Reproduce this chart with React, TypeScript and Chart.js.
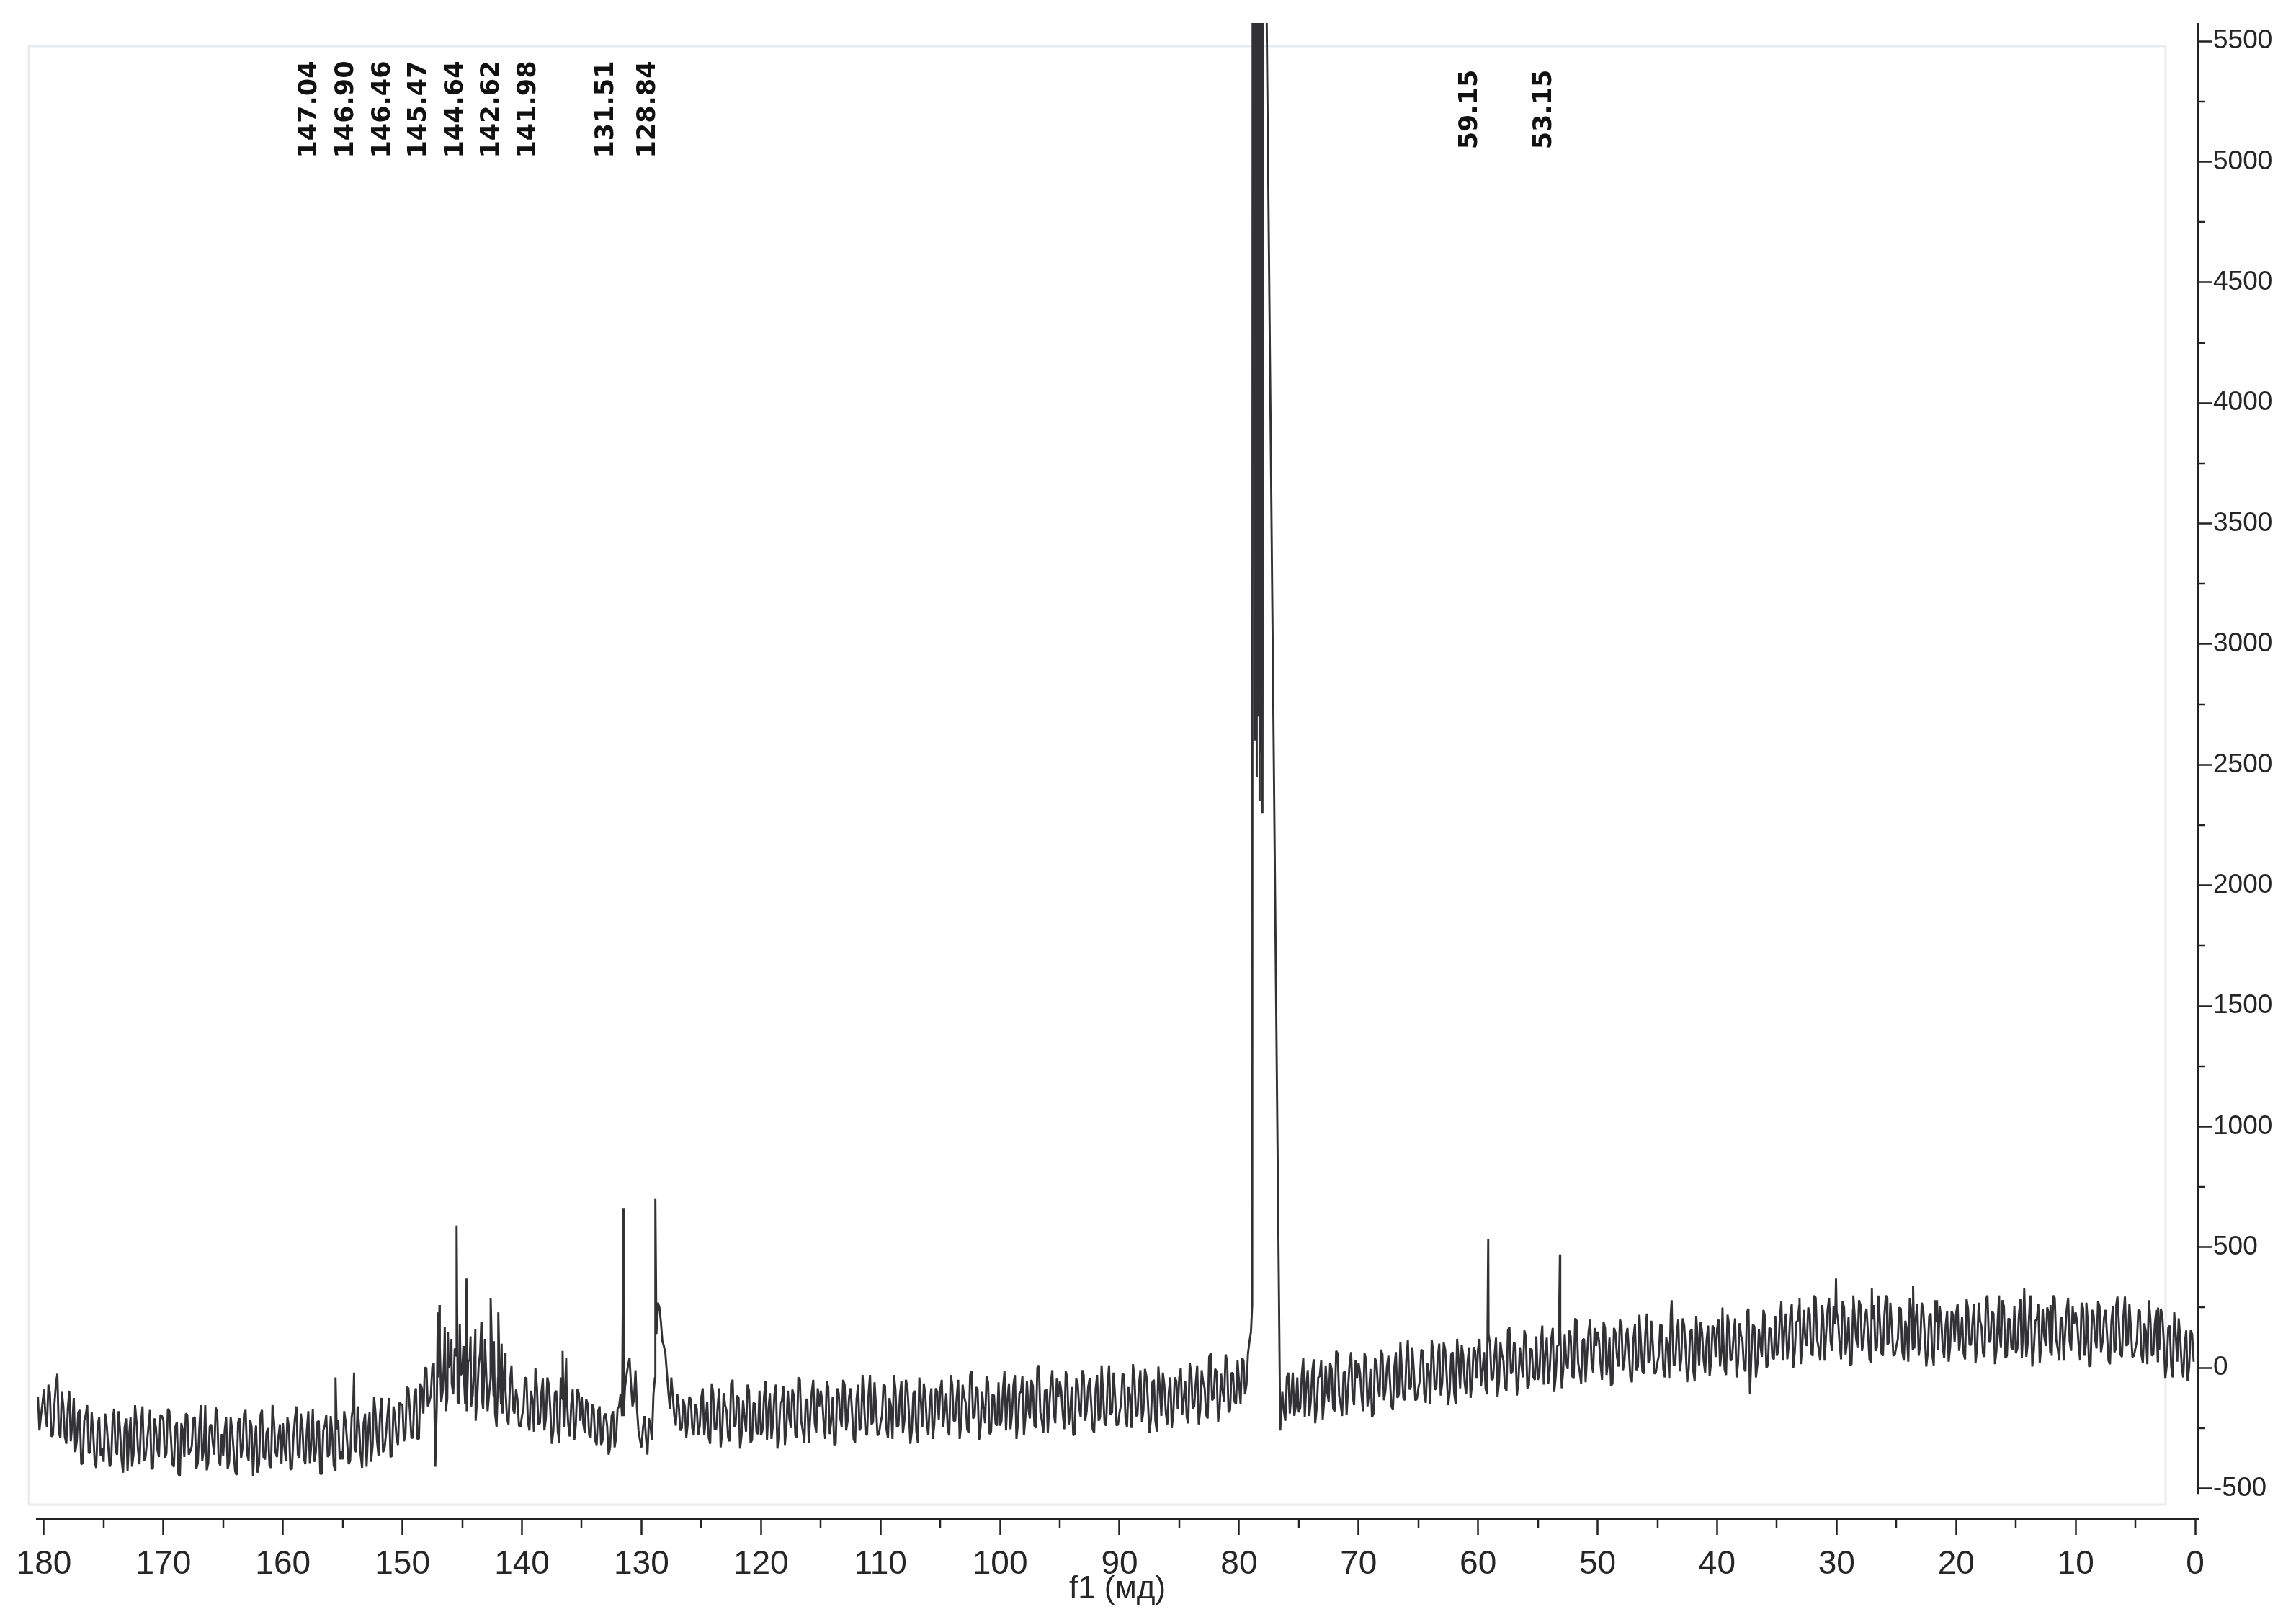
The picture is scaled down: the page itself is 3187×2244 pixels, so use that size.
import React, { useEffect, useRef } from 'react';
import { Chart, registerables } from 'chart.js';

Chart.register(...registerables);

const W = 3187;
const H = 2244;

// baseline trace: main grid every 0.25 ppm from 180.5 ppm,
// and the in-between samples every 0.25 ppm from 180.375 ppm
const GRID_START_PPM = 180.5;
const MID_START_PPM = 180.375;
const GRID_STEP_PPM = 0.25;

const baseline180to160 = [
  -120, -200,
  -90, -245, -105, -280, -70, -270, -100, -285, -170, -305, -125, -305, -175, -395, -195, -355, -185, -390, -240, -365,
  -390, -235, -410, -215, -345, -180, -380, -250, -430, -205, -360, -225, -400, -160, -370, -245, -420, -210, -340, -195,
  -220, -355, -180, -400, -245, -440, -230, -370, -195, -345, -210, -420, -255, -385, -155, -395, -235, -360, -185, -405,
  -365, -205, -390, -260, -430, -225, -375, -190, -355, -215, -450, -240, -400, -175, -380, -250, -415, -220, -370, -235,
];
const baseline160to140 = [
  -230, -385, -245, -420, -210, -360, -190, -375, -260, -395, -170, -350, -220, -440, -240, -370, -200, -405, -255, -380,
  -380, -225, -400, -205, -335, -160, -360, -230, -410, -185, -325, -190, -365, -125, -335, -195, -370, -160, -290, -145,
  -155, -275, -85, -290, -115, -295, -65, -190, 0, -140, 5, -410, -40, -140, 60, -130, 20, -110, 50, -150,
  -20, -150, 30, -160, 10, -130, 60, -170, -10, -110, 40, -190, -40, -150, -20, -210, -60, -170, -90, -240,
];
const baseline140to120 = [
  -200, -40, -225, -95, -265, -80, -230, -45, -210, -70, -315, -105, -265, -40, -245, -120, -285, -90, -240, -105,
  -120, -270, -150, -290, -170, -320, -160, -300, -190, -360, -200, -330, -170, -110, -200, -30, 40, -160, -10, -260,
  -330, -200, -360, -240, -110, 140, 250, 110, 60, -100, -40, -200, -110, -260, -130, -290, -120, -250, -150, -280,
  -125, -280, -140, -315, -105, -255, -85, -270, -155, -290, -65, -245, -115, -335, -135, -265, -95, -300, -150, -275,
];
const baseline120to100 = [
  -280, -125, -300, -105, -235, -70, -270, -140, -320, -95, -250, -115, -290, -50, -260, -135, -310, -100, -230, -85,
  -95, -230, -55, -275, -120, -315, -105, -245, -70, -220, -85, -295, -130, -260, -30, -270, -110, -235, -60, -280,
  -230, -70, -255, -125, -295, -90, -240, -55, -220, -80, -315, -105, -265, -40, -245, -115, -280, -85, -235, -100,
  -90, -245, -105, -280, -70, -220, -50, -235, -120, -255, -30, -210, -80, -300, -100, -230, -60, -265, -115, -240,
];
const baseline100to80 = [
  -240, -85, -260, -65, -195, -30, -230, -100, -280, -55, -210, -75, -250, 10, -220, -95, -270, -60, -190, -45,
  -55, -190, -15, -235, -80, -275, -65, -205, -30, -180, -45, -255, -90, -220, 10, -230, -70, -195, -20, -240,
  -185, -25, -210, -80, -250, -45, -195, -10, -175, -35, -270, -60, -220, 5, -200, -70, -235, -40, -190, -55,
  -40, -195, -55, -230, -20, -160, 10, -175, -60, -195, 45, -135, -5, -225, -25, -140, 30, -175, -25, -150,
];
const baseline80to60 = [
  -60, 40, -110, 60, 150, null, null, null, null, null, null, null, null, null, null, -180, -40, -190, -20, -160,
  -185, -30, -205, -10, -140, 35, -165, -35, -215, 10, -140, -5, -180, 60, -150, -20, -195, 15, -115, 30,
  20, -115, 60, -160, -5, -190, 20, -120, 55, -95, 50, -160, 5, -125, 105, -125, 35, -90, 85, -135,
  -85, 75, -110, 20, -150, 65, -85, 100, -65, 75, -155, 55, -105, 120, -85, 55, -110, 85, -65, 70,
];
const baseline60to40 = [
  80, -75, 65, -110, 100, -45, 125, -60, 55, -80, 155, -25, 105, -115, 85, -40, 130, -75, 75, -50,
  -50, 105, -70, 125, -5, 165, -35, 95, -85, 140, -5, 130, -45, 195, -15, 115, -60, 150, 20, 165,
  150, 15, 190, -30, 125, -65, 145, 5, 180, 30, 165, -45, 120, -10, 220, -15, 145, 20, 195, -25,
  20, 180, -5, 125, -45, 165, 15, 200, 35, 175, -60, 150, -10, 215, 10, 145, -20, 175, 25, 160,
];
const baseline40to20 = [
  160, 5, 145, -30, 180, 35, 205, 20, 135, 0, 230, -110, 180, -40, 160, 45, 215, 10, 160, 35,
  50, 205, 30, 225, 95, 265, 65, 195, 15, 240, 90, 225, 50, 290, 80, 205, 30, 240, 110, 255,
  235, 100, 275, 55, 210, 15, 225, 85, 260, 110, 245, 35, 200, 70, 300, 60, 220, 95, 270, 50,
  90, 250, 65, 195, 25, 230, 80, 265, 100, 240, 5, 215, 55, 280, 75, 205, 40, 235, 85, 220,
];
const baseline20to0 = [
  225, 70, 210, 35, 245, 95, 265, 80, 195, 60, 285, 105, 235, 15, 215, 85, 255, 50, 200, 75,
  60, 215, 40, 235, 105, 270, 70, 200, 20, 245, 90, 225, 50, 290, 80, 205, 30, 240, 110, 255,
  230, 95, 270, 50, 205, 10, 220, 80, 255, 105, 240, 30, 195, 65, 295, 55, 215, 90, 265, 45,
  80, 240, 55, 185, 15, 205, 55, 240, 75, 215, -45, 165, 5, 230, 25, 125, -40, 155, 5, 140,
];

const mid180to160 = [
  -260, -150,
  -195, -70, -285, -155, -25, -290, -160, -315, -95, -230, -350, -185, -400, -220, -155, -350, -265, -415, -205, -335,
  -190, -320, -395, -170, -360, -265, -435, -210, -285, -410, -155, -340, -230, -385, -310, -175, -415, -250, -370, -200,
  -375, -170, -285, -410, -225, -450, -260, -190, -360, -325, -205, -395, -155, -340, -425, -245, -310, -165, -385, -275,
  -260, -420, -205, -345, -445, -210, -330, -175, -385, -245, -310, -435, -195, -370, -270, -405, -155, -350, -285, -400,
];
const mid160to140 = [
  -330, -205, -420, -290, -160, -375, -245, -400, -180, -315, -390, -225, -440, -260, -195, -360, -275, -425, -215, -345,
  -180, -310, -385, -160, -350, -245, -415, -190, -265, -390, -120, -305, -195, -350, -275, -125, -365, -200, -320, -150,
  -305, -80, -180, -290, -85, -295, -85, 0, -160, -115, 20, -150, 90, -95, -180, 0, -65, 80, -140, -30,
  -15, -180, 30, -115, -220, 10, -115, 35, -180, -45, -115, -245, -10, -190, -95, -235, 10, -190, -130, -245,
];
const mid140to120 = [
  -170, -45, -260, -130, 0, -235, -105, -260, -40, -175, -260, -95, -310, -130, -65, -235, -150, -300, -90, -220,
  -230, -130, -280, -150, -300, -180, -320, -200, -240, -330, -180, -290, -160, -200, -80, 10, -70, -130, -170, -300,
  -250, -290, -210, -300, -40, 270, 190, 90, -20, -170, -120, -240, -160, -250, -160, -230, -130, -280, -170, -240,
  -85, -215, -290, -65, -255, -160, -330, -105, -180, -305, -50, -235, -125, -280, -205, -70, -310, -145, -265, -95,
];
const mid120to100 = [
  -260, -55, -170, -295, -110, -335, -145, -75, -245, -210, -90, -280, -40, -225, -310, -130, -195, -50, -270, -160,
  -135, -295, -80, -220, -320, -85, -205, -50, -260, -120, -185, -310, -70, -245, -145, -280, -30, -225, -160, -275,
  -200, -75, -290, -160, -30, -245, -115, -270, -50, -185, -260, -95, -310, -130, -65, -230, -145, -295, -85, -215,
  -50, -180, -255, -30, -220, -125, -295, -70, -145, -270, -15, -200, -90, -245, -170, -35, -275, -110, -230, -60,
];
const mid100to80 = [
  -220, -15, -130, -255, -70, -295, -105, -35, -205, -170, -50, -240, 0, -185, -270, -90, -155, -10, -230, -120,
  -95, -255, -40, -180, -280, -45, -165, -10, -220, -80, -145, -270, -30, -205, -105, -240, 10, -185, -120, -235,
  -155, -30, -245, -115, 15, -200, -70, -225, -5, -140, -215, -50, -265, -85, -20, -185, -100, -250, -40, -170,
  0, -130, -205, 20, -170, -65, -235, -10, -85, -210, 60, -125, -15, -170, -95, 55, -185, -20, -140, 30,
];
const mid80to60 = [
  -150, 30, -70, 110, null, null, null, null, null, null, null, null, null, null, -100, -220, -20, -110, -200, -40,
  -165, 40, -75, -200, -15, -230, -40, 30, -135, -100, 20, -170, 70, -115, -200, -15, -80, 65, -155, -45,
  -20, -180, 35, -105, -205, 40, -80, 75, -135, 5, -50, -175, 65, -110, -10, -135, 115, -80, -15, -130,
  -55, 70, -145, -15, 115, -90, 40, -115, 105, -30, -100, 65, -150, 30, 95, -60, 25, -125, 85, -45,
];
const mid60to40 = [
  120, -10, -85, 140, -50, 50, -120, 105, 30, -95, 170, -15, 95, -60, 15, 155, -85, 80, -40, 130,
  -30, 175, 60, -65, 120, -100, 90, 160, -10, 25, 155, -35, 205, 20, -65, 120, 55, 200, -20, 90,
  110, -50, 165, 25, -75, 165, 45, 200, -10, 130, 65, -60, 180, 5, 105, -25, 225, 30, 95, -20,
  50, 175, -40, 90, 220, 10, 140, -15, 205, 70, -5, 160, -55, 125, 190, 30, 115, -35, 175, 45,
];
const mid40to20 = [
  200, 70, -5, 220, 30, 130, -40, 185, 110, -15, 245, 60, 170, 15, 90, 240, 0, 165, 45, 215,
  70, 275, 160, 35, 220, 0, 190, 260, 90, 125, 250, 60, 300, 115, 30, 210, 145, 290, 70, 180,
  195, 35, 250, 110, 10, 245, 125, 280, 70, 210, 145, 20, 260, 85, 185, 50, 300, 105, 170, 55,
  120, 245, 30, 160, 290, 75, 205, 50, 270, 135, 60, 225, 10, 190, 255, 90, 175, 25, 235, 105,
];
const mid20to0 = [
  265, 135, 60, 285, 95, 190, 20, 245, 170, 45, 300, 115, 225, 70, 145, 280, 40, 205, 85, 255,
  80, 285, 170, 45, 230, 5, 195, 265, 95, 130, 250, 60, 300, 115, 30, 210, 145, 290, 70, 180,
  190, 30, 245, 105, 5, 240, 120, 275, 65, 205, 140, 15, 255, 80, 180, 45, 295, 100, 165, 50,
  110, 235, 20, 150, 280, 50, 180, 25, 245, 110, 10, 175, -40, 140, 205, 10, 95, -55, 155, 25,
];

// sharp signals (ppm, intensity)
const peakPpm = [
  155.6, 154.05, 147.04, 146.9, 146.46, 146.2, 145.9, 145.47, 145.2, 144.9, 144.64, 144.3, 143.9,
  143.4, 143.1, 142.62, 142.35, 141.98, 141.7, 141.4, 136.6, 136.3,
  131.51, 128.84, 59.15, 53.15, 43.8, 39.55, 33.1, 31.2, 30.05, 28.6, 27.05, 25.8, 23.6, 21.6,
  18.1, 16.4, 14.3, 13.8, 12.1, 9.1, 6.6, 3.1,
];
const peakIntensity = [
  -40, -20, 230, 260, 170, 150, 120, 590, 180, 90, 370, 130, 160,
  190, 120, 290, 110, 230, 100, 60, 70, 40,
  660, 700, 535, 470, 280, 250, 290, 260, 370, 300, 330, 290, 340, 280,
  270, 300, 330, 300, 260, 270, 260, 250,
];

// off-scale solvent signal (CDCl3), as it sits in the picture
const solventPpm = [
  78.9, 78.7, 78.64, 78.58, 78.52, 78.46, 78.4, 78.34, 78.28, 78.22, 78.16, 78.1, 78.04, 77.96, 76.55,
];
const solventIntensity = [
  260, 30000, 2600, 30000, 2450, 30000, 2700, 30000, 2350, 30000, 2550, 30000, 2300, 7000, -260,
];

// peak picking labels
const labelValues = [147.04, 146.9, 146.46, 145.47, 144.64, 142.62, 141.98, 131.51, 128.84, 59.15, 53.15];
const labelAnchorPpm = [157.74, 154.69, 151.64, 148.59, 145.54, 142.49, 139.44, 132.94, 129.44, 60.64, 54.44];

// axes
const xTickValues = [180, 170, 160, 150, 140, 130, 120, 110, 100, 90, 80, 70, 60, 50, 40, 30, 20, 10, 0];
const xMinorTicks = [175, 165, 155, 145, 135, 125, 115, 105, 95, 85, 75, 65, 55, 45, 35, 25, 15, 5];
const yTickValues = [-500, 0, 500, 1000, 1500, 2000, 2500, 3000, 3500, 4000, 4500, 5000, 5500];
const yMinorTicks = [-250, 250, 750, 1250, 1750, 2250, 2750, 3250, 3750, 4250, 4750, 5250];
const X_MIN = -0.24;
const X_MAX = 180.6;
const Y_MIN = -627;
const Y_MAX = 5575;
const Y_AXIS_LOW = -523;
const X_TITLE = 'f1 (мд)';

const AXIS_COLOR = '#232323';
const LINE_COLOR = '#323235';

function buildSpectrum() {
  const grid = [
    ...baseline180to160, ...baseline160to140, ...baseline140to120, ...baseline120to100,
    ...baseline100to80, ...baseline80to60, ...baseline60to40, ...baseline40to20, ...baseline20to0,
  ];
  const mids = [
    ...mid180to160, ...mid160to140, ...mid140to120, ...mid120to100,
    ...mid100to80, ...mid80to60, ...mid60to40, ...mid40to20, ...mid20to0,
  ];
  const pts: { x: number; y: number }[] = [];
  grid.forEach((v, i) => {
    if (v !== null) pts.push({ x: +(GRID_START_PPM - i * GRID_STEP_PPM).toFixed(3), y: v as number });
  });
  mids.forEach((v, i) => {
    if (v !== null) pts.push({ x: +(MID_START_PPM - i * GRID_STEP_PPM).toFixed(3), y: v as number });
  });
  peakPpm.forEach((p, i) => pts.push({ x: p, y: peakIntensity[i] }));
  solventPpm.forEach((p, i) => pts.push({ x: p, y: solventIntensity[i] }));
  pts.sort((a, b) => b.x - a.x);
  return pts;
}

const framePlugin = {
  id: 'scanFrame',
  beforeDraw(chart: any) {
    const { ctx } = chart;
    ctx.save();
    ctx.fillStyle = '#ffffff';
    ctx.fillRect(0, 0, chart.width, chart.height);
    ctx.strokeStyle = '#e8ebf0';
    ctx.lineWidth = 3;
    ctx.strokeRect(40, 64, 2966, 2024);
    ctx.restore();
  },
};

const axisExtrasPlugin = {
  id: 'axisExtras',
  afterDraw(chart: any) {
    const { ctx, chartArea, scales } = chart;
    const x = scales.x;
    const y = scales.y;
    ctx.save();
    ctx.strokeStyle = AXIS_COLOR;
    ctx.lineWidth = 3;
    ctx.beginPath();
    ctx.moveTo(chartArea.right, chartArea.top);
    ctx.lineTo(chartArea.right, y.getPixelForValue(Y_AXIS_LOW));
    ctx.stroke();
    ctx.lineWidth = 2.5;
    xMinorTicks.forEach((v) => {
      const px = Math.round(x.getPixelForValue(v));
      ctx.beginPath();
      ctx.moveTo(px, chartArea.bottom);
      ctx.lineTo(px, chartArea.bottom + 12);
      ctx.stroke();
    });
    yMinorTicks.forEach((v) => {
      const py = Math.round(y.getPixelForValue(v));
      ctx.beginPath();
      ctx.moveTo(chartArea.right, py);
      ctx.lineTo(chartArea.right + 10, py);
      ctx.stroke();
    });
    ctx.restore();
  },
};

const peakLabelPlugin = {
  id: 'peakLabels',
  afterDatasetsDraw(chart: any) {
    const { ctx, scales } = chart;
    const x = scales.x;
    ctx.save();
    ctx.font = 'bold 35px "DejaVu Sans", Verdana, sans-serif';
    ctx.fillStyle = '#111111';
    ctx.textAlign = 'center';
    ctx.textBaseline = 'middle';
    labelValues.forEach((v, i) => {
      const px = x.getPixelForValue(labelAnchorPpm[i]);
      ctx.save();
      ctx.translate(px, 152);
      ctx.rotate(-Math.PI / 2);
      ctx.fillText(v.toFixed(2), 0, 0);
      ctx.restore();
    });
    ctx.restore();
  },
};

export default function App() {
  const canvasRef = useRef<HTMLCanvasElement | null>(null);

  useEffect(() => {
    const canvas = canvasRef.current;
    if (!canvas) return;
    const chart = new Chart(canvas, {
      type: 'line',
      data: {
        datasets: [
          {
            data: buildSpectrum(),
            borderColor: LINE_COLOR,
            borderWidth: 2.9,
            borderJoinStyle: 'bevel',
            pointRadius: 0,
            tension: 0,
            fill: false,
          },
        ],
      },
      options: {
        animation: false,
        responsive: false,
        devicePixelRatio: 1,
        events: [],
        layout: { padding: { left: 51, top: 32, right: 0, bottom: 0 } },
        plugins: { legend: { display: false }, tooltip: { enabled: false }, title: { display: false } },
        scales: {
          x: {
            type: 'linear',
            reverse: true,
            min: X_MIN,
            max: X_MAX,
            afterBuildTicks: (scale: any) => {
              scale.ticks = xTickValues.map((v) => ({ value: v }));
            },
            afterFit: (scale: any) => {
              scale.height = 136;
            },
            grid: {
              drawOnChartArea: false,
              drawTicks: true,
              tickLength: 22,
              tickWidth: 2.5,
              tickColor: AXIS_COLOR,
            },
            border: { display: true, color: AXIS_COLOR, width: 3 },
            ticks: {
              autoSkip: false,
              maxRotation: 0,
              padding: 14,
              color: '#262626',
              font: { family: "'Liberation Sans Narrow', 'Liberation Sans', sans-serif", size: 46 },
              callback: (v: any) => String(v),
            },
            title: {
              display: true,
              text: X_TITLE,
              color: '#262626',
              font: { family: "'Liberation Sans Narrow', 'Liberation Sans', sans-serif", size: 44 },
              padding: { top: 0, bottom: 12 },
            },
          },
          y: {
            type: 'linear',
            position: 'right',
            min: Y_MIN,
            max: Y_MAX,
            afterBuildTicks: (scale: any) => {
              scale.ticks = yTickValues.map((v) => ({ value: v }));
            },
            afterFit: (scale: any) => {
              scale.width = 136;
            },
            grid: {
              drawOnChartArea: false,
              drawTicks: true,
              tickLength: 20,
              tickWidth: 2.5,
              tickColor: AXIS_COLOR,
            },
            border: { display: false },
            ticks: {
              padding: 1,
              color: '#262626',
              font: { family: "'Liberation Sans', sans-serif", size: 37 },
              callback: (v: any) => String(v),
            },
          },
        },
      },
      plugins: [framePlugin, axisExtrasPlugin, peakLabelPlugin],
    });
    return () => chart.destroy();
  }, []);

  return (
    <div style={{ position: 'fixed', left: 0, top: 0, width: W, height: H, background: '#fff' }}>
      <canvas ref={canvasRef} width={W} height={H} style={{ width: W, height: H, display: 'block' }} />
    </div>
  );
}
